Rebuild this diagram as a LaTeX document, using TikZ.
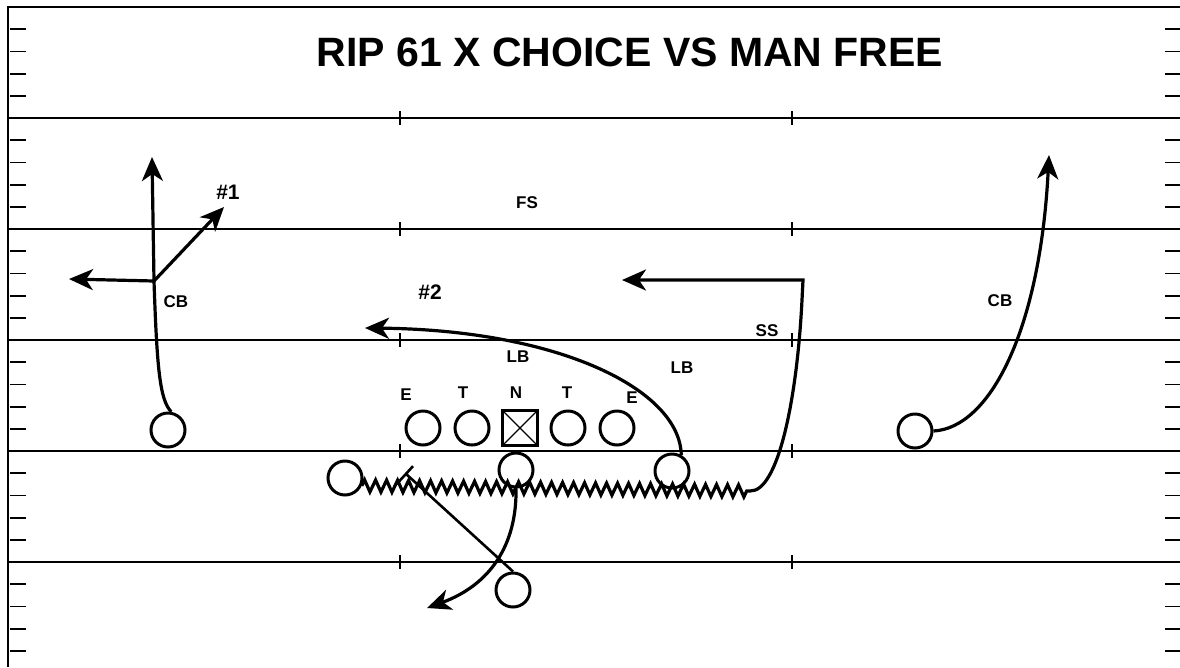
\documentclass[tikz,border=0pt]{standalone}
\usepackage{fontspec}
\setmainfont{Liberation Sans}
\usepackage{tikz}
\usetikzlibrary{arrows.meta,positioning,decorations.pathmorphing}

\begin{document}
\begin{tikzpicture}[x=1pt,y=-1pt,
  every node/.style={font=\fontsize{17}{20}\selectfont\bfseries,inner sep=0pt},
  field/.style={line width=1.6pt},
  hash/.style={line width=1.8pt},
  player/.style={circle,draw,line width=3pt,minimum size=34pt},
  ctr/.style={rectangle,draw,line width=3.4pt,minimum size=35pt,outer sep=0pt},
  num/.style={font=\fontsize{21}{24}\selectfont\bfseries},
  route/.style={line width=3.2pt,-{Stealth[length=24pt,width=21pt,inset=7pt]}},
  block/.style={line width=2.6pt,-{Bar[width=21pt]}},
  motion/.style={decoration={zigzag,segment length=11pt,amplitude=6pt}}
]
\useasboundingbox (0,0) rectangle (1180,667);

% field
\draw[line width=2.6pt] (8,667) -- (8,7) -- (1180,7);
\foreach \y in {118,229,340,451,562} {
  \draw[field] (8,\y) -- (1180,\y);
  \foreach \x in {400,792} \draw[field] (\x,\y-7) -- (\x,\y+7);
}
\foreach \y in {7,118,229,340,451,562}
  \foreach \i in {1,...,4} {
    \draw[hash] (10,\y+22.2*\i) -- (26,\y+22.2*\i);
    \draw[hash] (1165,\y+22.2*\i) -- (1180,\y+22.2*\i);
  }

\node[font=\fontsize{41}{48}\selectfont\bfseries] (title) at (630,52) {RIP 61 X CHOICE VS MAN FREE};

% offense
\node[ctr] (c) at (520,428) {};
\draw[line width=1.2pt] (c.north west) -- (c.south east) (c.north east) -- (c.south west);
\node[player, left=12pt of c] (lg) {};
\node[player, left=12pt of lg] (lt) {};
\node[player, right=12pt of c] (rg) {};
\node[player, right=12pt of rg] (rt) {};
\node[player] (x) at (168,430) {};
\node[player] (z) at (915,431) {};
\node[player] (h) at (345,478) {};
\node[player] (qb) at (516,470) {};
\node[player] (y) at (672,471) {};
\node[player] (rb) at (513,590) {};

% defense
\node (de1) at (406,395) {E};
\node (dt1) at (463,393) {T};
\node (dn) at (516,393) {N};
\node (dt2) at (567,393) {T};
\node (de2) at (632,398) {E};
\node (lb1) at (518,357) {LB};
\node (lb2) at (682,368) {LB};
\node (ss) at (767,331) {SS};
\node (fs) at (527,203) {FS};
\node (cb1) at (176,302) {CB};
\node (cb2) at (1000,301) {CB};
\node[num] (n1) at (228,192) {\#1};
\node[num] (n2) at (430,292) {\#2};

% routes
\coordinate (xc) at (154,281);
\coordinate (xgo) at (152,157);
\coordinate (xin) at (69,279);
\coordinate (xout) at (224,207);
\coordinate (yend) at (365,328);
\coordinate (hm) at (750,491);
\coordinate (hend) at (622,280);
\coordinate (zend) at (1049,155);
\coordinate (qend) at (427,608);
\coordinate (bend) at (405,473);

\draw[route] (x.80) .. controls (160,400) and (157,370) .. (xc) -- (xgo);
\draw[route] (xc) -- (xin);
\draw[route] (xc) -- (xout);
\draw[route] (y.60) .. controls (680,390) and (560,330) .. (yend);
\draw[route] (h.-25) decorate[motion]{-- (hm)} .. controls (778,492) and (797,400) .. (802,300) -- (803,280) -- (hend);
\draw[route] (z.east) .. controls (990,428) and (1040,330) .. (zend);
\draw[route] (qb.south) .. controls (517,545) and (490,585) .. (qend);
\draw[block] (rb.north) -- (bend);
\end{tikzpicture}
\end{document}
